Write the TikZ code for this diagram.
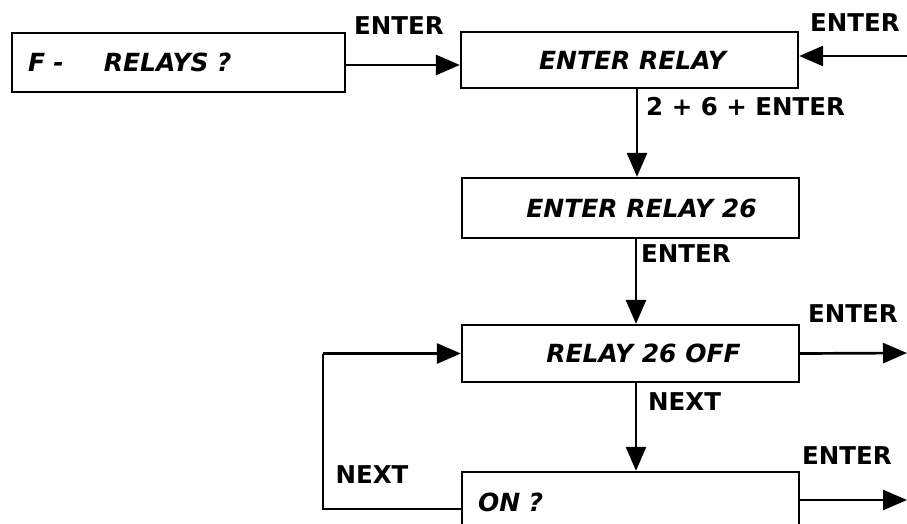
\documentclass[tikz,border=0pt]{standalone}
\usepackage{fontspec}
\setmainfont{DejaVu Sans}
\usetikzlibrary{arrows.meta}
\begin{document}
\begin{tikzpicture}[x=1pt,y=-1pt,
  box/.style={draw,line width=2.3pt,minimum width=337pt,inner sep=0pt,
    font=\fontsize{25}{29}\selectfont\bfseries\itshape},
  lbl/.style={inner sep=0pt,font=\fontsize{24.5}{28}\selectfont\bfseries},
  arr/.style={line width=2.7pt,-{Triangle[length=24pt,width=20pt]}},
  ln/.style={line width=2.7pt}]
\clip (0,0) rectangle (907,524);
\useasboundingbox (0,0) rectangle (907,524);
% boxes
\node[box,minimum width=333pt,minimum height=59pt,text width=301pt,align=left,inner xsep=16pt] (b1) at (178.5,62.5) {F -\hspace{40pt}RELAYS ?};
\node[box,minimum height=56pt] (b2) at (629.5,60) {\hspace{6pt}ENTER RELAY};
\node[box,minimum height=60pt] (b3) at (630.5,208) {\hspace{22pt}ENTER RELAY 26};
\node[box,minimum height=57pt] (b4) at (630.5,353.5) {\hspace{26pt}RELAY 26 OFF};
\node[box,minimum height=60pt,text width=305pt,align=left,inner xsep=16pt] (b5) at (630.5,502) {ON ?};
% free ends
\coordinate (inR) at (907,56);
\coordinate (out1) at (907,353);
\coordinate (out2) at (907,500);
\coordinate (loopA) at (323,509);
\coordinate (loopB) at (323,353.5);
% connectors
\draw[arr] ([yshift=-2.5pt]b1.east) -- ([yshift=-2.5pt]b1.east -| b2.west);
\draw[arr] (inR) -- (inR -| b2.east);
\draw[arr] ([xshift=7.5pt]b2.south) -- ([xshift=7.5pt]b2.south |- b3.north);
\draw[arr] ([xshift=5.5pt]b3.south) -- ([xshift=5.5pt]b3.south |- b4.north);
\draw[arr] ([xshift=5.5pt]b4.south) -- ([xshift=5.5pt]b4.south |- b5.north);
\draw[arr] (b4.east) -- (out1);
\draw[arr] (b5.east |- out2) -- (out2);
\draw[ln] (b5.west |- loopA) -- (loopA) -- (loopB);
\draw[arr] (loopB) -- (b4.west);
% labels
\node[lbl] (l1) at (399,26) {ENTER};
\node[lbl] (l2) at (855,23) {ENTER};
\node[lbl,anchor=west] (l3) at (646,107) {2 + 6 + ENTER};
\node[lbl,anchor=west] (l4) at (641,254) {ENTER};
\node[lbl,anchor=west] (l5) at (648,402) {NEXT};
\node[lbl] (l6) at (853,314) {ENTER};
\node[lbl] (l7) at (847,456) {ENTER};
\node[lbl] (l8) at (372,475) {NEXT};
\end{tikzpicture}
\end{document}
